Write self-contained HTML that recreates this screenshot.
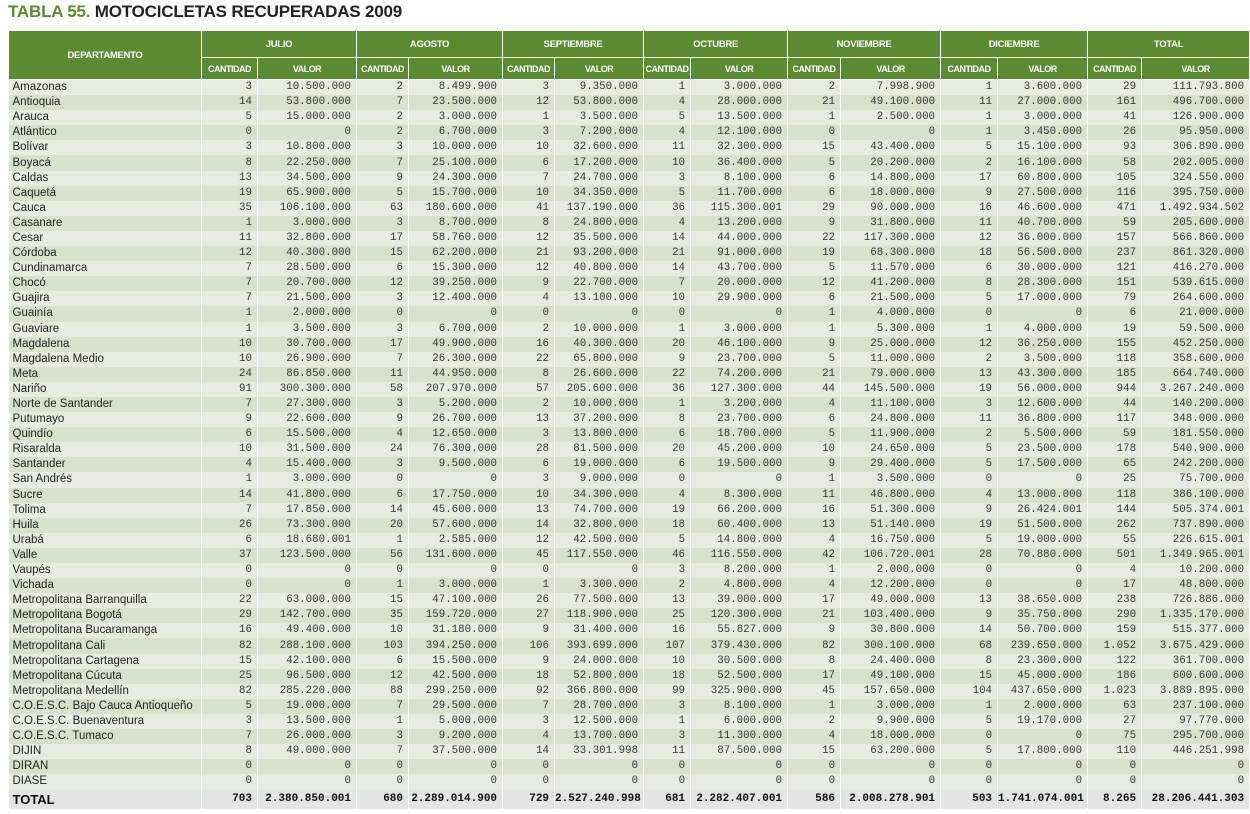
<!DOCTYPE html>
<html><head><meta charset="utf-8">
<style>
html,body{margin:0;padding:0;background:#fff;width:1250px;height:814px;overflow:hidden;}
#title{position:absolute;left:8px;top:2px;font-family:"Liberation Sans",sans-serif;font-weight:bold;font-size:17px;color:#222;letter-spacing:-0.2px;}
#title span{color:#5b8a30;}
table{position:absolute;left:8px;top:30px;width:1241px;border-collapse:collapse;table-layout:fixed;}
th{background:#5a8a32;color:#fff;font-family:"Liberation Sans",sans-serif;font-size:9.5px;font-weight:bold;border:1px solid #fff;padding:0;letter-spacing:-0.3px;overflow:hidden;white-space:nowrap;}
tr.h1 th{height:26px;}
tr.h2 th{height:21px;font-size:9px;letter-spacing:-0.5px;}
td{padding:0 5px 0 0;height:15.1px;border-right:1px solid #fff;font-family:"Liberation Mono","DejaVu Sans Mono",monospace;font-size:10.8px;color:#333;text-align:right;white-space:nowrap;overflow:hidden;line-height:15px;}
td.n{font-family:"Liberation Sans",sans-serif;font-size:11.5px;text-align:left;padding-left:4px;color:#222;}
tr.a td{background:#e6ede0;}
tr.b td{background:#d7e2cc;}
tr.t td{background:#e4e4e4;height:20px;font-weight:bold;font-size:11px;color:#111;}
tr.t td.n{font-size:13px;}
</style></head><body>
<div id="title"><span>TABLA 55.</span> MOTOCICLETAS RECUPERADAS 2009</div>
<table id="tbl">
<colgroup><col style="width:193px"><col style="width:56px"><col style="width:99px"><col style="width:52px"><col style="width:94px"><col style="width:52px"><col style="width:89px"><col style="width:47px"><col style="width:97px"><col style="width:53px"><col style="width:100px"><col style="width:57px"><col style="width:90px"><col style="width:54px"><col style="width:108px"></colgroup>
<thead>
<tr class="h1"><th rowspan="2">DEPARTAMENTO</th><th colspan="2">JULIO</th><th colspan="2">AGOSTO</th><th colspan="2">SEPTIEMBRE</th><th colspan="2">OCTUBRE</th><th colspan="2">NOVIEMBRE</th><th colspan="2">DICIEMBRE</th><th colspan="2">TOTAL</th></tr>
<tr class="h2">
<th>CANTIDAD</th><th>VALOR</th>
<th>CANTIDAD</th><th>VALOR</th>
<th>CANTIDAD</th><th>VALOR</th>
<th>CANTIDAD</th><th>VALOR</th>
<th>CANTIDAD</th><th>VALOR</th>
<th>CANTIDAD</th><th>VALOR</th>
<th>CANTIDAD</th><th>VALOR</th>
</tr>
</thead>
<tbody id="body"></tbody>
</table>
<script>
const departments = ["Amazonas","Antioquia","Arauca","Atlántico","Bolívar","Boyacá","Caldas","Caquetá","Cauca","Casanare","Cesar","Córdoba","Cundinamarca","Chocó","Guajira","Guainía","Guaviare","Magdalena","Magdalena Medio","Meta","Nariño","Norte de Santander","Putumayo","Quindío","Risaralda","Santander","San Andrés","Sucre","Tolima","Huila","Urabá","Valle","Vaupés","Vichada","Metropolitana Barranquilla","Metropolitana Bogotá","Metropolitana Bucaramanga","Metropolitana Cali","Metropolitana Cartagena","Metropolitana Cúcuta","Metropolitana Medellín","C.O.E.S.C. Bajo Cauca Antioqueño","C.O.E.S.C. Buenaventura","C.O.E.S.C. Tumaco","DIJIN","DIRAN","DIASE"];
const rowValues = [
"3|10.500.000|2|8.499.900|3|9.350.000|1|3.000.000|2|7.998.900|1|3.600.000|29|111.793.800",
"14|53.800.000|7|23.500.000|12|53.800.000|4|28.000.000|21|49.100.000|11|27.000.000|161|496.700.000",
"5|15.000.000|2|3.000.000|1|3.500.000|5|13.500.000|1|2.500.000|1|3.000.000|41|126.900.000",
"0|0|2|6.700.000|3|7.200.000|4|12.100.000|0|0|1|3.450.000|26|95.950.000",
"3|10.800.000|3|10.000.000|10|32.600.000|11|32.300.000|15|43.400.000|5|15.100.000|93|306.890.000",
"8|22.250.000|7|25.100.000|6|17.200.000|10|36.400.000|5|20.200.000|2|16.100.000|58|202.005.000",
"13|34.500.000|9|24.300.000|7|24.700.000|3|8.100.000|6|14.800.000|17|60.800.000|105|324.550.000",
"19|65.900.000|5|15.700.000|10|34.350.000|5|11.700.000|6|18.000.000|9|27.500.000|116|395.750.000",
"35|106.100.000|63|180.600.000|41|137.190.000|36|115.300.001|29|90.000.000|16|46.600.000|471|1.492.934.502",
"1|3.000.000|3|8.700.000|8|24.800.000|4|13.200.000|9|31.800.000|11|40.700.000|59|205.600.000",
"11|32.800.000|17|58.760.000|12|35.500.000|14|44.000.000|22|117.300.000|12|36.000.000|157|566.860.000",
"12|40.300.000|15|62.200.000|21|93.200.000|21|91.000.000|19|68.300.000|18|56.500.000|237|861.320.000",
"7|28.500.000|6|15.300.000|12|40.800.000|14|43.700.000|5|11.570.000|6|30.000.000|121|416.270.000",
"7|20.700.000|12|39.250.000|9|22.700.000|7|20.000.000|12|41.200.000|8|28.300.000|151|539.615.000",
"7|21.500.000|3|12.400.000|4|13.100.000|10|29.900.000|6|21.500.000|5|17.000.000|79|264.600.000",
"1|2.000.000|0|0|0|0|0|0|1|4.000.000|0|0|6|21.000.000",
"1|3.500.000|3|6.700.000|2|10.000.000|1|3.000.000|1|5.300.000|1|4.000.000|19|59.500.000",
"10|30.700.000|17|49.900.000|16|40.300.000|20|46.100.000|9|25.000.000|12|36.250.000|155|452.250.000",
"10|26.900.000|7|26.300.000|22|65.800.000|9|23.700.000|5|11.000.000|2|3.500.000|118|358.600.000",
"24|86.850.000|11|44.950.000|8|26.600.000|22|74.200.000|21|79.000.000|13|43.300.000|185|664.740.000",
"91|300.300.000|58|207.970.000|57|205.600.000|36|127.300.000|44|145.500.000|19|56.000.000|944|3.267.240.000",
"7|27.300.000|3|5.200.000|2|10.000.000|1|3.200.000|4|11.100.000|3|12.600.000|44|140.200.000",
"9|22.600.000|9|26.700.000|13|37.200.000|8|23.700.000|6|24.800.000|11|36.800.000|117|348.000.000",
"6|15.500.000|4|12.650.000|3|13.800.000|6|18.700.000|5|11.900.000|2|5.500.000|59|181.550.000",
"10|31.500.000|24|76.300.000|28|81.500.000|20|45.200.000|10|24.650.000|5|23.500.000|178|540.900.000",
"4|15.400.000|3|9.500.000|6|19.000.000|6|19.500.000|9|29.400.000|5|17.500.000|65|242.200.000",
"1|3.000.000|0|0|3|9.000.000|0|0|1|3.500.000|0|0|25|75.700.000",
"14|41.800.000|6|17.750.000|10|34.300.000|4|8.300.000|11|46.800.000|4|13.000.000|118|386.100.000",
"7|17.850.000|14|45.600.000|13|74.700.000|19|66.200.000|16|51.300.000|9|26.424.001|144|505.374.001",
"26|73.300.000|20|57.600.000|14|32.800.000|18|60.400.000|13|51.140.000|19|51.500.000|262|737.890.000",
"6|18.680.001|1|2.585.000|12|42.500.000|5|14.800.000|4|16.750.000|5|19.000.000|55|226.615.001",
"37|123.500.000|56|131.600.000|45|117.550.000|46|116.550.000|42|106.720.001|28|70.880.000|501|1.349.965.001",
"0|0|0|0|0|0|3|8.200.000|1|2.000.000|0|0|4|10.200.000",
"0|0|1|3.000.000|1|3.300.000|2|4.800.000|4|12.200.000|0|0|17|48.800.000",
"22|63.000.000|15|47.100.000|26|77.500.000|13|39.000.000|17|49.000.000|13|38.650.000|238|726.886.000",
"29|142.700.000|35|159.720.000|27|118.900.000|25|120.300.000|21|103.400.000|9|35.750.000|290|1.335.170.000",
"16|49.400.000|10|31.180.000|9|31.400.000|16|55.827.000|9|30.800.000|14|50.700.000|159|515.377.000",
"82|288.100.000|103|394.250.000|106|393.699.000|107|379.430.000|82|300.100.000|68|239.650.000|1.052|3.675.429.000",
"15|42.100.000|6|15.500.000|9|24.000.000|10|30.500.000|8|24.400.000|8|23.300.000|122|361.700.000",
"25|96.500.000|12|42.500.000|18|52.800.000|18|52.500.000|17|49.100.000|15|45.000.000|186|600.600.000",
"82|285.220.000|88|299.250.000|92|366.800.000|99|325.900.000|45|157.650.000|104|437.650.000|1.023|3.889.895.000",
"5|19.000.000|7|29.500.000|7|28.700.000|3|8.100.000|1|3.000.000|1|2.000.000|63|237.100.000",
"3|13.500.000|1|5.000.000|3|12.500.000|1|6.000.000|2|9.900.000|5|19.170.000|27|97.770.000",
"7|26.000.000|3|9.200.000|4|13.700.000|3|11.300.000|4|18.000.000|0|0|75|295.700.000",
"8|49.000.000|7|37.500.000|14|33.301.998|11|87.500.000|15|63.200.000|5|17.800.000|110|446.251.998",
"0|0|0|0|0|0|0|0|0|0|0|0|0|0",
"0|0|0|0|0|0|0|0|0|0|0|0|0|0"
];
const totalValues = ["703","2.380.850.001","680","2.289.014.900","729","2.527.240.998","681","2.282.407.001","586","2.008.278.901","503","1.741.074.001","8.265","28.206.441.303"];

const body = document.getElementById('body');
function addRow(name, vals, cls) {
  const tr = document.createElement('tr');
  tr.className = cls;
  
  
  const n = document.createElement('td');
  n.className = 'n';
  n.textContent = name;
  
  
  tr.appendChild(n);
  vals.forEach((v, i) => {
    const td = document.createElement('td');
    td.textContent = v;
    
    
    tr.appendChild(td);
  });
  body.appendChild(tr);
}
departments.forEach((d, i) => addRow(d, rowValues[i].split('|'), i % 2 === 0 ? 'a' : 'b'));
addRow('TOTAL', totalValues, 't');
</script>
</body></html>
